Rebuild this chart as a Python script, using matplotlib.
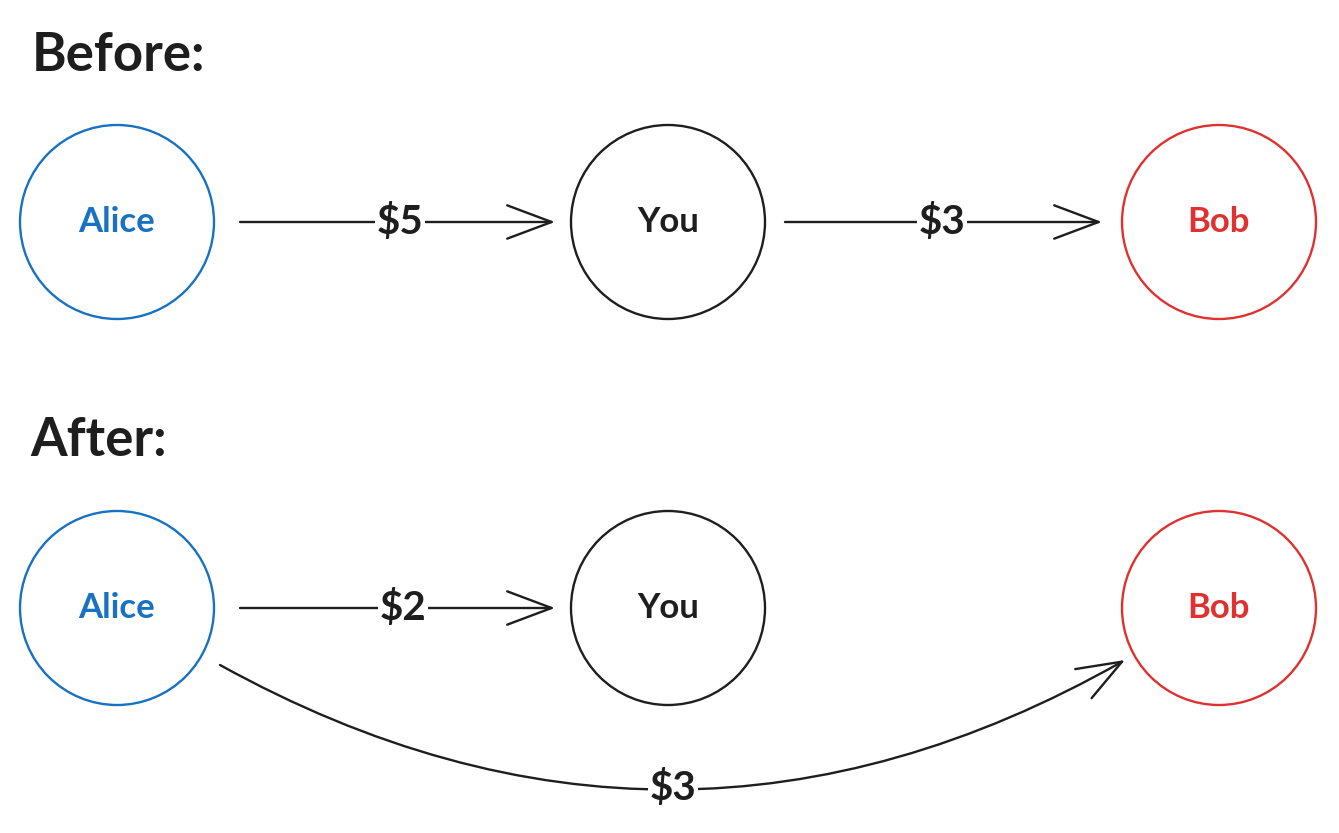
import matplotlib.pyplot as plt
from matplotlib.patches import Circle, FancyArrowPatch

plt.rcParams['font.family'] = ['Lato', 'DejaVu Sans']

# diagram content
titles = ["Before:", "After:"]
names = ["Alice", "You", "Bob"]
name_colors = ["#1971c2", "#1e1e1e", "#e03131"]
before_amounts = ["$5", "$3"]     # Alice->You, You->Bob
after_amounts = ["$2", "$3"]      # Alice->You, Alice->Bob

# layout (pixels)
row_y = [222, 608]
title_pos = [(32, 55), (30, 440)]
node_x = [117, 668, 1219]
radius = 97
ink = "#1e1e1e"

fig = plt.figure(figsize=(13.39, 8.33), dpi=100)
ax = fig.add_axes([0, 0, 1, 1])
ax.set_xlim(0, 1339)
ax.set_ylim(833, 0)
ax.set_aspect("equal")
ax.axis("off")


def arrow(p0, p1, rad=0.0):
    a = FancyArrowPatch(p0, p1, arrowstyle="->,head_length=1.6,head_width=0.6",
                        connectionstyle=f"arc3,rad={rad}", mutation_scale=20,
                        lw=1.7, color=ink, shrinkA=0, shrinkB=0)
    ax.add_patch(a)


def label(x, y, s):
    ax.text(x, y, s.replace("$", r"\$"), fontsize=29, fontweight="bold",
            ha="center", va="center", color=ink,
            bbox=dict(fc="white", ec="none", pad=1))


for (tx, ty), t in zip(title_pos, titles):
    ax.text(tx, ty, t, fontsize=38, fontweight="bold", ha="left", va="center", color=ink)

for y in row_y:
    for x, n, c in zip(node_x, names, name_colors):
        ax.add_patch(Circle((x, y), radius, fill=False, ec=c, lw=1.7))
        ax.text(x, y, n, fontsize=25, fontweight="bold", ha="center", va="center", color=c)

# before row
y = row_y[0]
arrow((240, y), (555, y))
label(400, y, before_amounts[0])
arrow((785, y), (1102, y))
label(942, y, before_amounts[1])

# after row
y = row_y[1]
arrow((240, y), (555, y))
label(403, y, after_amounts[0])
arrow((220, 665), (1125, 660), rad=0.28)
label(673, 788, after_amounts[1])

fig.savefig("out.png", dpi=100, facecolor="white")
